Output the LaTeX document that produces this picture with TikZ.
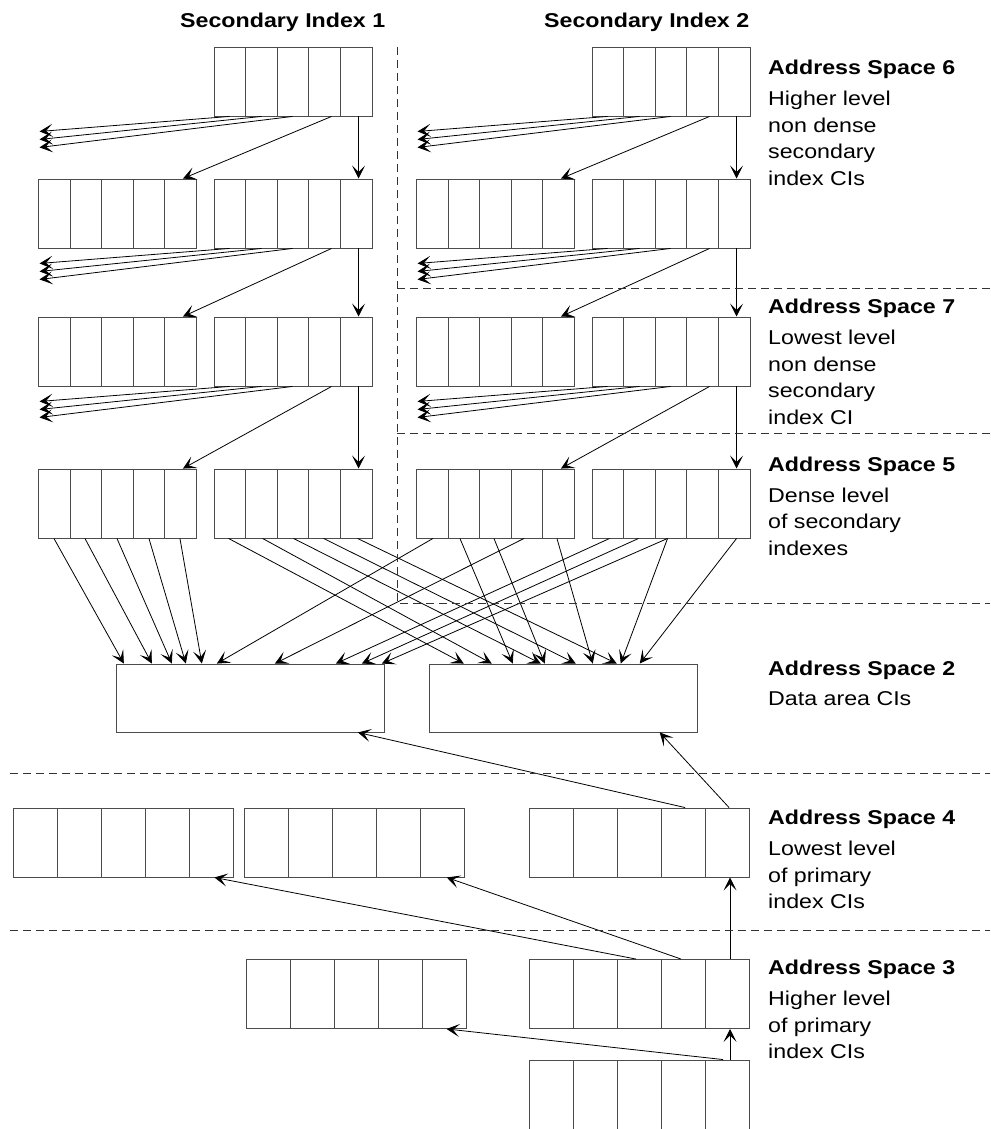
\documentclass[tikz,border=0pt]{standalone}
\usepackage{fontspec}
\setmainfont{Liberation Sans}[FakeStretch=1.16]
\usetikzlibrary{arrows.meta,calc}

\tikzset{
    rec/.style={draw=black!70, line width=0.9pt, minimum width=158pt, minimum height=69pt, inner sep=0pt,
        path picture={\foreach \k in {1,...,4}{\draw[line width=0.9pt] ($(path picture bounding box.south west)!\k/5!(path picture bounding box.south east)$) -- ($(path picture bounding box.north west)!\k/5!(path picture bounding box.north east)$);}}},
    widerec/.style={rec, minimum width=220pt},
    datarec/.style={draw=black!70, line width=0.9pt, minimum width=268pt, minimum height=68pt, inner sep=0pt},
    ptr/.style={-{Stealth[length=13pt,width=13pt,inset=6.5pt]}, line width=0.8pt},
    sep/.style={black!80, line width=0.9pt, dash pattern=on 8pt off 5pt},
    lbl/.style={anchor=base west, inner sep=0pt, align=left, font=\fontsize{20pt}{26.5pt}\selectfont}
}

\begin{document}
\begin{tikzpicture}[x=1pt,y=-1pt]
    \useasboundingbox (0,0) rectangle (990,1129);

    % secondary index records
    \foreach \i/\dx in {1/0,2/378} {
        \node[rec] (t\i) at (293+\dx,81.5) {};
        \foreach \r/\y in {a/213.5,b/351.5,d/503.5} {
            \node[rec] (\r\i L) at (117.4+\dx,\y) {};
            \node[rec] (\r\i R) at (293+\dx,\y) {};
        }
    }
    \foreach \src/\sib/\kid in {t1/a1L/a1R,a1R/b1L/b1R,b1R/d1L/d1R,t2/a2L/a2R,a2R/b2L/b2R,b2R/d2L/d2R} {
        \coordinate (\src-p1) at ([xshift=-174pt,yshift=-15pt]\src.south west);
        \coordinate (\src-p2) at ([xshift=-174pt,yshift=-23pt]\src.south west);
        \coordinate (\src-p3) at ([xshift=-174pt,yshift=-31pt]\src.south west);
        \draw[ptr] ([xshift=16pt]\src.south west) -- (\src-p1);
        \draw[ptr] ([xshift=48pt]\src.south west) -- (\src-p2);
        \draw[ptr] ([xshift=79pt]\src.south west) -- (\src-p3);
        \draw[ptr] ([xshift=118pt]\src.south west) -- ([xshift=145pt]\sib.north west);
        \draw[ptr] ([xshift=145pt]\src.south west) -- ([xshift=145pt]\kid.north west);
    }

    % data area
    \node[datarec] (dataL) at (250.3,698) {};
    \node[datarec] (dataR) at (563.2,698) {};
    \foreach \s/\a/\t/\b in {d1L/16pt/dataL/8pt, d1L/47pt/dataL/36pt, d1L/79pt/dataL/56pt, d1L/111pt/dataL/70pt, d1L/142pt/dataL/86pt,
        d1R/15pt/dataR/35pt, d1R/49pt/dataR/63pt, d1R/80pt/dataR/112pt, d1R/110pt/dataR/147pt, d1R/144pt/dataR/188pt,
        d2L/17pt/dataL/101pt, d2L/44pt/dataR/84pt, d2L/78pt/dataR/116pt, d2L/108pt/dataL/159pt, d2L/141pt/dataR/164pt,
        d2R/18pt/dataL/220pt, d2R/47pt/dataL/246pt, d2R/76pt/dataL/266pt, d2R/76pt/dataR/192pt, d2R/145pt/dataR/211pt}
        \draw[ptr] ([xshift=\a]\s.south west) -- ([xshift=\b]\t.north west);

    % primary index records
    \node[widerec] (pA) at (123.8,842.5) {};
    \node[widerec] (pB) at (354.2,842.5) {};
    \node[widerec] (pC) at (639.5,842.5) {};
    \node[widerec] (pD) at (356,994) {};
    \node[widerec] (pE) at (639.5,994) {};
    \node[widerec] (pF) at (639.5,1094.5) {};
    \draw[ptr] ([xshift=156pt]pC.north west) -- ([xshift=242pt]dataL.south west);
    \draw[ptr] ([xshift=200pt]pC.north west) -- ([xshift=231pt]dataR.south west);
    \draw[ptr] ([xshift=107pt]pE.north west) -- ([xshift=201pt]pA.south west);
    \draw[ptr] ([xshift=152pt]pE.north west) -- ([xshift=203pt]pB.south west);
    \draw[ptr] ([xshift=201pt]pE.north west) -- ([xshift=201pt]pC.south west);
    \draw[ptr] ([xshift=194pt]pF.north west) -- ([xshift=201pt]pD.south west);
    \draw[ptr] ([xshift=201pt]pF.north west) -- ([xshift=201pt]pE.south west);

    % address space borders
    \draw[sep] (397,47) -- (397,603) -- (990,603);
    \draw[sep] (397,288) -- (990,288);
    \draw[sep] (397,433) -- (990,433);
    \draw[sep] (10,773) -- (990,773);
    \draw[sep] (10,930) -- (990,930);

    % labels (placed at the baseline of their last line)
    \node[lbl] (si1) at (180,28) {\bfseries Secondary Index 1};
    \node[lbl] (si2) at (544,28) {\bfseries Secondary Index 2};
    \node[lbl] (as6) at (768,185) {\textbf{Address Space 6}\\[5pt]Higher level\\non dense\\secondary\\index CIs};
    \node[lbl] (as7) at (768,424) {\textbf{Address Space 7}\\[5pt]Lowest level\\non dense\\secondary\\index CI};
    \node[lbl] (as5) at (768,555) {\textbf{Address Space 5}\\[4pt]Dense level\\of secondary\\indexes};
    \node[lbl] (as2) at (768,705.5) {\textbf{Address Space 2}\\[4pt]Data area CIs};
    \node[lbl] (as4) at (768,908.5) {\textbf{Address Space 4}\\[5pt]Lowest level\\of primary\\index CIs};
    \node[lbl] (as3) at (768,1058.5) {\textbf{Address Space 3}\\[5pt]Higher level\\of primary\\index CIs};
\end{tikzpicture}
\end{document}
